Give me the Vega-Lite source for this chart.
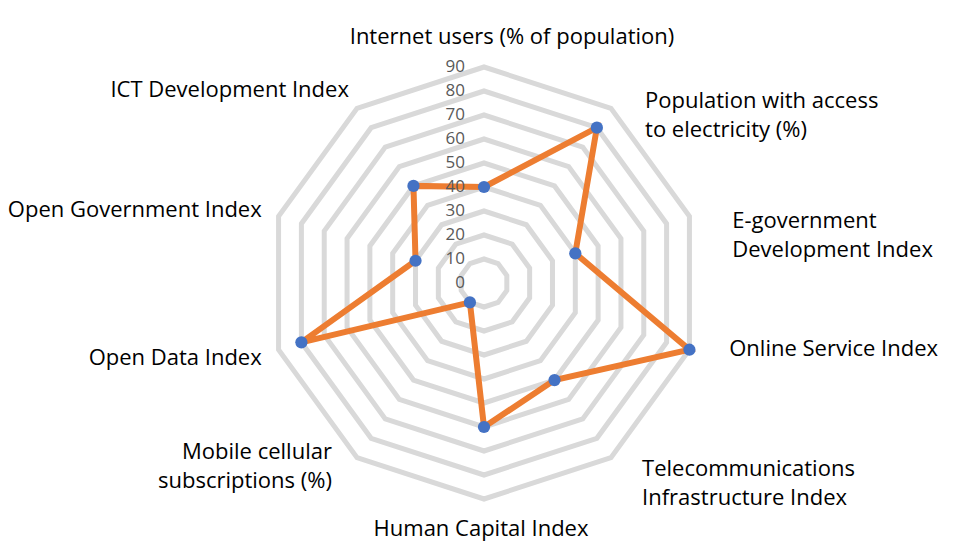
{
  "$schema": "https://vega.github.io/schema/vega-lite/v6.json",
  "width": 480,
  "height": 480,
  "padding": {"left": 244, "top": 43, "right": 244, "bottom": 36},
  "autosize": {"type": "none"},
  "background": "white",
  "config": {"view": {"stroke": null}, "text": {"font": "Open Sans"}},
  "datasets": {
    "scores": [
      {"category": "Internet users (% of population)", "idx": 0, "value": 40},
      {"category": "Population with access\nto electricity (%)", "idx": 1, "value": 80},
      {"category": "E-government\nDevelopment Index", "idx": 2, "value": 40},
      {"category": "Online Service Index", "idx": 3, "value": 90},
      {"category": "Telecommunications\nInfrastructure Index", "idx": 4, "value": 50},
      {"category": "Human Capital Index", "idx": 5, "value": 60},
      {"category": "Mobile cellular\nsubscriptions (%)", "idx": 6, "value": 10},
      {"category": "Open Data Index", "idx": 7, "value": 80},
      {"category": "Open Government Index", "idx": 8, "value": 30},
      {"category": "ICT Development Index", "idx": 9, "value": 50}
    ],
    "rings": [
      {"level": 10, "spoke": [0,1,2,3,4,5,6,7,8,9]},
      {"level": 20, "spoke": [0,1,2,3,4,5,6,7,8,9]},
      {"level": 30, "spoke": [0,1,2,3,4,5,6,7,8,9]},
      {"level": 40, "spoke": [0,1,2,3,4,5,6,7,8,9]},
      {"level": 50, "spoke": [0,1,2,3,4,5,6,7,8,9]},
      {"level": 60, "spoke": [0,1,2,3,4,5,6,7,8,9]},
      {"level": 70, "spoke": [0,1,2,3,4,5,6,7,8,9]},
      {"level": 80, "spoke": [0,1,2,3,4,5,6,7,8,9]},
      {"level": 90, "spoke": [0,1,2,3,4,5,6,7,8,9]}
    ],
    "ticks": [
      {"level": 0}, {"level": 10}, {"level": 20}, {"level": 30}, {"level": 40},
      {"level": 50}, {"level": 60}, {"level": 70}, {"level": 80}, {"level": 90}
    ]
  },
  "layer": [
    {
      "data": {"name": "rings"},
      "transform": [
        {"flatten": ["spoke"]},
        {"calculate": "datum.level * sin(datum.spoke * PI / 5)", "as": "px"},
        {"calculate": "datum.level * cos(datum.spoke * PI / 5)", "as": "py"}
      ],
      "mark": {"type": "line", "interpolate": "linear-closed", "stroke": "#d9d9d9", "strokeWidth": 5},
      "encoding": {
        "x": {"field": "px", "type": "quantitative", "scale": {"domain": [-100, 100], "nice": false, "zero": false}, "axis": null},
        "y": {"field": "py", "type": "quantitative", "scale": {"domain": [-100, 100], "nice": false, "zero": false}, "axis": null},
        "detail": {"field": "level", "type": "nominal"},
        "order": {"field": "spoke", "type": "quantitative"}
      }
    },
    {
      "data": {"name": "scores"},
      "transform": [
        {"calculate": "datum.value * sin(datum.idx * PI / 5)", "as": "px"},
        {"calculate": "datum.value * cos(datum.idx * PI / 5)", "as": "py"}
      ],
      "mark": {"type": "line", "interpolate": "linear-closed", "stroke": "#ED7D31", "strokeWidth": 6},
      "encoding": {
        "x": {"field": "px", "type": "quantitative"},
        "y": {"field": "py", "type": "quantitative"},
        "order": {"field": "idx", "type": "quantitative"}
      }
    },
    {
      "data": {"name": "ticks"},
      "mark": {"type": "text", "align": "right", "baseline": "middle", "dx": -19, "fontSize": 17, "color": "#595959"},
      "encoding": {
        "x": {"datum": 0, "type": "quantitative"},
        "y": {"field": "level", "type": "quantitative"},
        "text": {"field": "level", "type": "quantitative"}
      }
    },
    {
      "data": {"name": "scores"},
      "transform": [
        {"calculate": "datum.value * sin(datum.idx * PI / 5)", "as": "px"},
        {"calculate": "datum.value * cos(datum.idx * PI / 5)", "as": "py"}
      ],
      "mark": {"type": "point", "filled": true, "size": 150, "color": "#4472C4", "opacity": 1},
      "encoding": {
        "x": {"field": "px", "type": "quantitative"},
        "y": {"field": "py", "type": "quantitative"}
      }
    },
    {
      "data": {"name": "scores"},
      "transform": [
        {"filter": "datum.idx == 1 || datum.idx == 2"},
        {"calculate": "100 * sin(datum.idx * PI / 5)", "as": "px"},
        {"calculate": "100 * cos(datum.idx * PI / 5)", "as": "py"}
      ],
      "mark": {"type": "text", "align": "left", "baseline": "middle", "lineBreak": "\n", "fontSize": 22, "color": "#000000", "dx": 20, "dy": 12, "lineHeight": 29},
      "encoding": {
        "x": {"field": "px", "type": "quantitative"},
        "y": {"field": "py", "type": "quantitative"},
        "text": {"field": "category"}
      }
    },
    {
      "data": {"name": "scores"},
      "transform": [
        {"filter": "datum.idx == 3 || datum.idx == 4"},
        {"calculate": "100 * sin(datum.idx * PI / 5)", "as": "px"},
        {"calculate": "100 * cos(datum.idx * PI / 5)", "as": "py"}
      ],
      "mark": {"type": "text", "align": "left", "baseline": "middle", "lineBreak": "\n", "fontSize": 22, "color": "#000000", "dx": 17, "dy": -8, "lineHeight": 29},
      "encoding": {
        "x": {"field": "px", "type": "quantitative"},
        "y": {"field": "py", "type": "quantitative"},
        "text": {"field": "category"}
      }
    },
    {
      "data": {"name": "scores"},
      "transform": [
        {"filter": "datum.idx >= 7"},
        {"calculate": "100 * sin(datum.idx * PI / 5)", "as": "px"},
        {"calculate": "100 * cos(datum.idx * PI / 5)", "as": "py"}
      ],
      "mark": {"type": "text", "align": "right", "baseline": "middle", "lineBreak": "\n", "fontSize": 22, "color": "#000000", "dx": 6, "dy": 1, "lineHeight": 29},
      "encoding": {
        "x": {"field": "px", "type": "quantitative"},
        "y": {"field": "py", "type": "quantitative"},
        "text": {"field": "category"}
      }
    },
    {
      "data": {"name": "scores"},
      "transform": [
        {"filter": "datum.idx == 6"},
        {"calculate": "100 * sin(datum.idx * PI / 5)", "as": "px"},
        {"calculate": "100 * cos(datum.idx * PI / 5)", "as": "py"}
      ],
      "mark": {"type": "text", "align": "right", "baseline": "middle", "lineBreak": "\n", "fontSize": 22, "color": "#000000", "dx": -11, "dy": -25, "lineHeight": 29},
      "encoding": {
        "x": {"field": "px", "type": "quantitative"},
        "y": {"field": "py", "type": "quantitative"},
        "text": {"field": "category"}
      }
    },
    {
      "data": {"name": "scores"},
      "transform": [
        {"filter": "datum.idx == 0"},
        {"calculate": "100 * sin(datum.idx * PI / 5)", "as": "px"},
        {"calculate": "100 * cos(datum.idx * PI / 5)", "as": "py"}
      ],
      "mark": {"type": "text", "align": "center", "baseline": "bottom", "fontSize": 22, "color": "#000000", "dx": 28, "dy": 6},
      "encoding": {
        "x": {"field": "px", "type": "quantitative"},
        "y": {"field": "py", "type": "quantitative"},
        "text": {"field": "category"}
      }
    },
    {
      "data": {"name": "scores"},
      "transform": [
        {"filter": "datum.idx == 5"},
        {"calculate": "100 * sin(datum.idx * PI / 5)", "as": "px"},
        {"calculate": "100 * cos(datum.idx * PI / 5)", "as": "py"}
      ],
      "mark": {"type": "text", "align": "center", "baseline": "top", "fontSize": 22, "color": "#000000", "dx": -3, "dy": -4},
      "encoding": {
        "x": {"field": "px", "type": "quantitative"},
        "y": {"field": "py", "type": "quantitative"},
        "text": {"field": "category"}
      }
    }
  ]
}
